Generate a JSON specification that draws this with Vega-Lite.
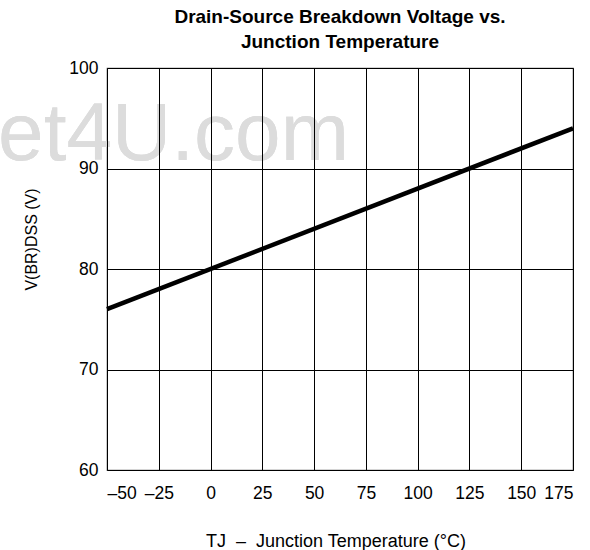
{
  "$schema": "https://vega.github.io/schema/vega-lite/v6.json",
  "autosize": {"type": "none"},
  "width": 466,
  "height": 402,
  "padding": {"left": 107, "top": 68, "right": 17, "bottom": 80},
  "background": "white",
  "config": {
    "font": "Liberation Sans",
    "view": {"stroke": "#555555", "strokeWidth": 1.2}
  },
  "title": {
    "text": ["Drain-Source Breakdown Voltage vs.", "Junction Temperature"],
    "fontSize": 19,
    "fontWeight": "bold",
    "font": "Liberation Sans",
    "color": "black",
    "lineHeight": 25,
    "anchor": "middle",
    "offset": 7
  },
  "data": {
    "values": [
      {"temp": -50, "v": 76},
      {"temp": 175, "v": 94}
    ]
  },
  "layer": [
    {
      "mark": {"type": "text", "fontSize": 82, "font": "Liberation Sans", "color": "#dcdcdc", "align": "left", "baseline": "alphabetic", "clip": false},
      "encoding": {
        "x": {"datum": -102.6},
        "y": {"datum": 90.85},
        "text": {"value": "et4U.com"}
      }
    },
    {
      "mark": {"type": "line", "color": "black", "strokeWidth": 4.5, "strokeCap": "butt"},
      "encoding": {
        "x": {
          "field": "temp", "type": "quantitative",
          "scale": {"domain": [-50, 175], "nice": false, "zero": false},
          "axis": {
            "values": [-50, -25, 0, 25, 50, 75, 100, 125, 150, 175],
            "labelExpr": "replace(datum.label, '−', '–')",
            "zindex": 1,
            "grid": true, "gridColor": "black", "gridWidth": 1, "gridOpacity": 1,
            "domain": false, "ticks": false,
            "labelFontSize": 17.5, "labelColor": "black", "labelPadding": 14,
            "labelFont": "Liberation Sans",
            "title": "TJ\u00a0\u00a0–\u00a0\u00a0Junction Temperature (°C)",
            "titleFontSize": 18, "titleFontWeight": "normal", "titleColor": "black",
            "titleFont": "Liberation Sans",
            "titleX": 228.5, "titleY": 71, "titleBaseline": "middle", "titleAlign": "center"
          }
        },
        "y": {
          "field": "v", "type": "quantitative",
          "scale": {"domain": [60, 100], "nice": false, "zero": false},
          "axis": {
            "values": [60, 70, 80, 90, 100],
            "zindex": 1,
            "grid": true, "gridColor": "black", "gridWidth": 1, "gridOpacity": 1,
            "domain": false, "ticks": false,
            "labelFontSize": 17.5, "labelColor": "black", "labelPadding": 9,
            "labelFont": "Liberation Sans",
            "title": "V(BR)DSS (V)",
            "titleFontSize": 16, "titleFontWeight": "normal", "titleColor": "black",
            "titleFont": "Liberation Sans",
            "titleX": -76, "titleY": 171, "titleBaseline": "middle", "titleAlign": "center"
          }
        }
      }
    }
  ]
}
